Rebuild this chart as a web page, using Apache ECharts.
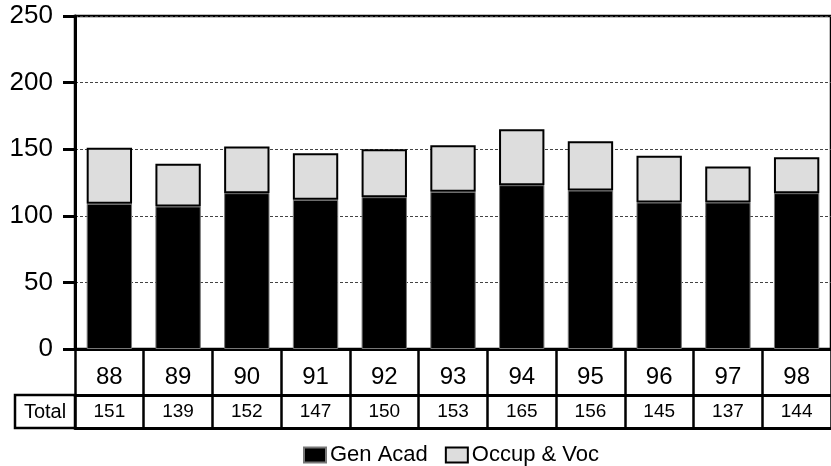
<!DOCTYPE html>
<html>
<head>
<meta charset="utf-8">
<script src="https://cdn.jsdelivr.net/npm/echarts@6/dist/echarts.min.js"></script>
<style>
html,body{margin:0;padding:0;background:#fff;}
#c{width:831px;height:466px;}
</style>
</head>
<body>
<div id="c"></div>
<script>
var years = ['88','89','90','91','92','93','94','95','96','97','98'];
var genAcad = [109,107,117,112,114,118,123,119,110,110,117];
var occupVoc = [42,32,35,35,36,35,42,37,35,27,27];
var totals = ['151','139','152','147','150','153','165','156','145','137','144'];
var yTicks = {min:0, max:250, interval:50};

var FONT = '"Liberation Sans", Arial, sans-serif';
var chart = echarts.init(document.getElementById('c'), null, {renderer:'canvas'});
var option = {
  animation:false,
  backgroundColor:'#fff',
  textStyle:{fontFamily:FONT},
  grid:{left:75, top:16, width:761, height:333, show:true, borderColor:'#000', borderWidth:2.5, backgroundColor:'transparent'},
  legend:{
    top:439, left:298,
    itemWidth:22, itemHeight:15, itemGap:17,
    icon:'rect',
    textStyle:{fontFamily:FONT, fontSize:22, color:'#000', padding:[0,0,0,-1]},
    data:['Gen Acad','Occup & Voc']
  },
  xAxis:[
    {type:'category', data:years, position:'bottom',
     axisLine:{lineStyle:{color:'#000', width:3}},
     axisTick:{alignWithLabel:true, length:12, lineStyle:{color:'#000', width:3}},
     axisLabel:{margin:16, fontSize:24, color:'#000', fontFamily:FONT}},
    {type:'category', data:years, position:'bottom', offset:0,
     axisLine:{show:false},
     axisTick:{show:true, alignWithLabel:false, interval:0, length:79, lineStyle:{color:'#000', width:2.5}},
     axisLabel:{show:false}},
    {type:'category', data:totals, position:'bottom', offset:46,
     axisLine:{lineStyle:{color:'#000', width:3}},
     axisTick:{show:false},
     axisLabel:{margin:7, fontSize:19, color:'#000', fontFamily:FONT, interval:0}},
    {type:'category', data:years, position:'bottom', offset:79,
     axisLine:{lineStyle:{color:'#000', width:3}},
     axisTick:{show:false},
     axisLabel:{show:false}}
  ],
  yAxis:{
    type:'value', min:yTicks.min, max:yTicks.max, interval:yTicks.interval,
    axisLine:{show:true, lineStyle:{color:'#000', width:3}},
    axisTick:{show:true, length:12, lineStyle:{color:'#000', width:3}},
    axisLabel:{fontSize:26, color:'#000', margin:22, fontFamily:FONT},
    splitLine:{show:true, lineStyle:{color:'#444', width:1, type:[3,2]}}
  },
  series:[
    {name:'Gen Acad', type:'bar', stack:'s', xAxisIndex:0, data:genAcad, barWidth:'66%',
     itemStyle:{color:'#000', borderColor:'#777', borderWidth:1}},
    {name:'Occup & Voc', type:'bar', stack:'s', xAxisIndex:0, data:occupVoc, barWidth:'66%',
     itemStyle:{color:'#dddddd', borderColor:'#000', borderWidth:2}}
  ],
  graphic:[
    {type:'rect', shape:{x:15, y:395, width:60, height:33}, style:{fill:'none', stroke:'#000', lineWidth:2.5}},
    {type:'text', x:45, y:412, style:{text:'Total', fontFamily:FONT, fontSize:20, fill:'#000', textAlign:'center', textVerticalAlign:'middle'}}
  ]
};
chart.setOption(option);
</script>
</body>
</html>
